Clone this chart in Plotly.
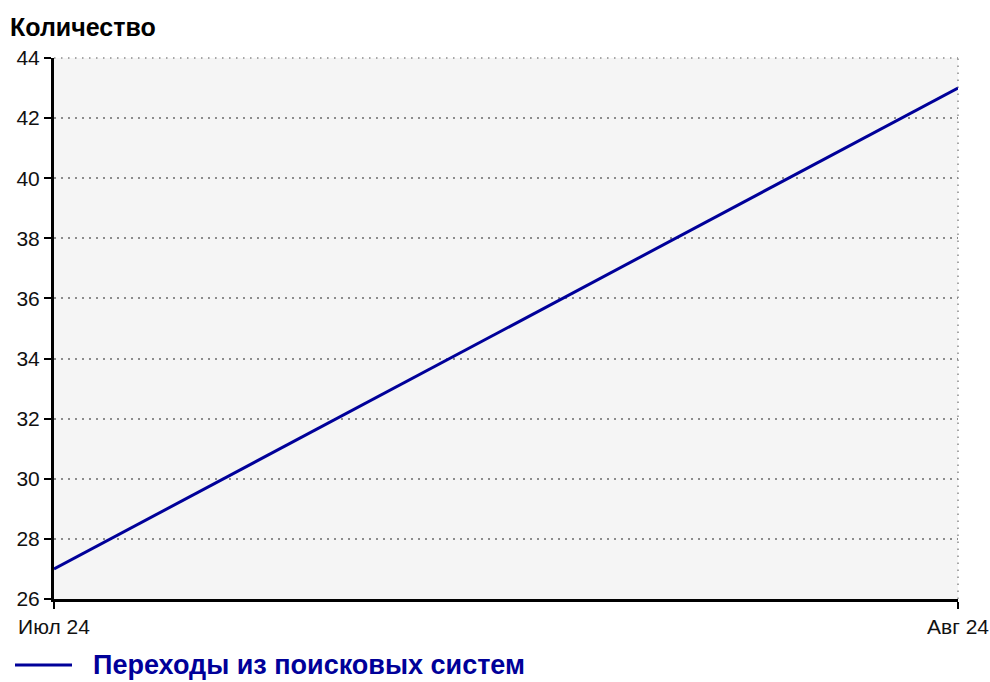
import plotly.graph_objects as go

months = ["Июл 24", "Авг 24"]
visits = [27, 43]
series_name = "Переходы из поисковых систем"
y_title = "Количество"
y_ticks = [26, 28, 30, 32, 34, 36, 38, 40, 42, 44]

W, H = 990, 682
L, R, T, B = 54, 990 - 958, 58, 682 - 599
line_color = "#000099"
grid_color = "#8c8c8c"
grid_dash = "1.5px,5.5px"
grid_style = dict(showgrid=True, gridcolor=grid_color, griddash=grid_dash, gridwidth=1.5)

fig = go.Figure()
fig.add_trace(go.Scatter(
    x=months, y=visits, mode="lines", name=series_name,
    line=dict(color=line_color, width=3), showlegend=False,
))

fig.update_layout(
    width=W, height=H,
    margin=dict(l=L, r=R, t=T, b=B, autoexpand=False),
    paper_bgcolor="white", plot_bgcolor="#f5f5f5",
    font=dict(family="Liberation Sans, Arial, sans-serif", size=21, color="#111111"),
    title=dict(text="<b>" + y_title + "</b>", x=10 / W, xanchor="left",
               y=1 - 27 / H, yanchor="middle", yref="container",
               font=dict(size=25, color="#000000")),
)
fig.update_xaxes(
    type="category", range=[0, 1], automargin=False,
    showline=True, linecolor="black", linewidth=3,
    ticks="outside", ticklen=7, tickwidth=2, tickcolor="black",
    zeroline=False, **grid_style,
)
fig.update_yaxes(
    range=[26, 44], tickvals=y_ticks, automargin=False,
    showline=True, linecolor="black", linewidth=3,
    ticks="outside", ticklen=7, tickwidth=2, tickcolor="black",
    zeroline=False, **grid_style,
)

# dotted grid lines on the top and right edges of the plot area
for x0, y0, x1, y1 in [(0, 1, 1, 1), (1, 0, 1, 1)]:
    fig.add_shape(type="line", xref="paper", yref="paper", x0=x0, y0=y0, x1=x1, y1=y1,
                  line=dict(color=grid_color, width=1.5, dash=grid_dash), layer="below")

# legend drawn as line sample + label
pw, ph = W - L - R, H - T - B
leg_y = -(665 - (H - B)) / ph
fig.add_shape(type="line", xref="paper", yref="paper",
              x0=(15 - L) / pw, x1=(72 - L) / pw,
              y0=leg_y, y1=leg_y,
              line=dict(color=line_color, width=3))
fig.add_annotation(text="<b>" + series_name + "</b>", xref="paper", yref="paper",
                   x=(91 - L) / pw, y=leg_y,
                   xanchor="left", yanchor="middle", showarrow=False,
                   font=dict(size=27, color=line_color))

# place the figure at the window's top-left corner (no default body margin)
fig.write_html("out.html", config={"displayModeBar": False},
               post_script="document.body.style.margin='0';document.body.style.overflow='hidden';")
